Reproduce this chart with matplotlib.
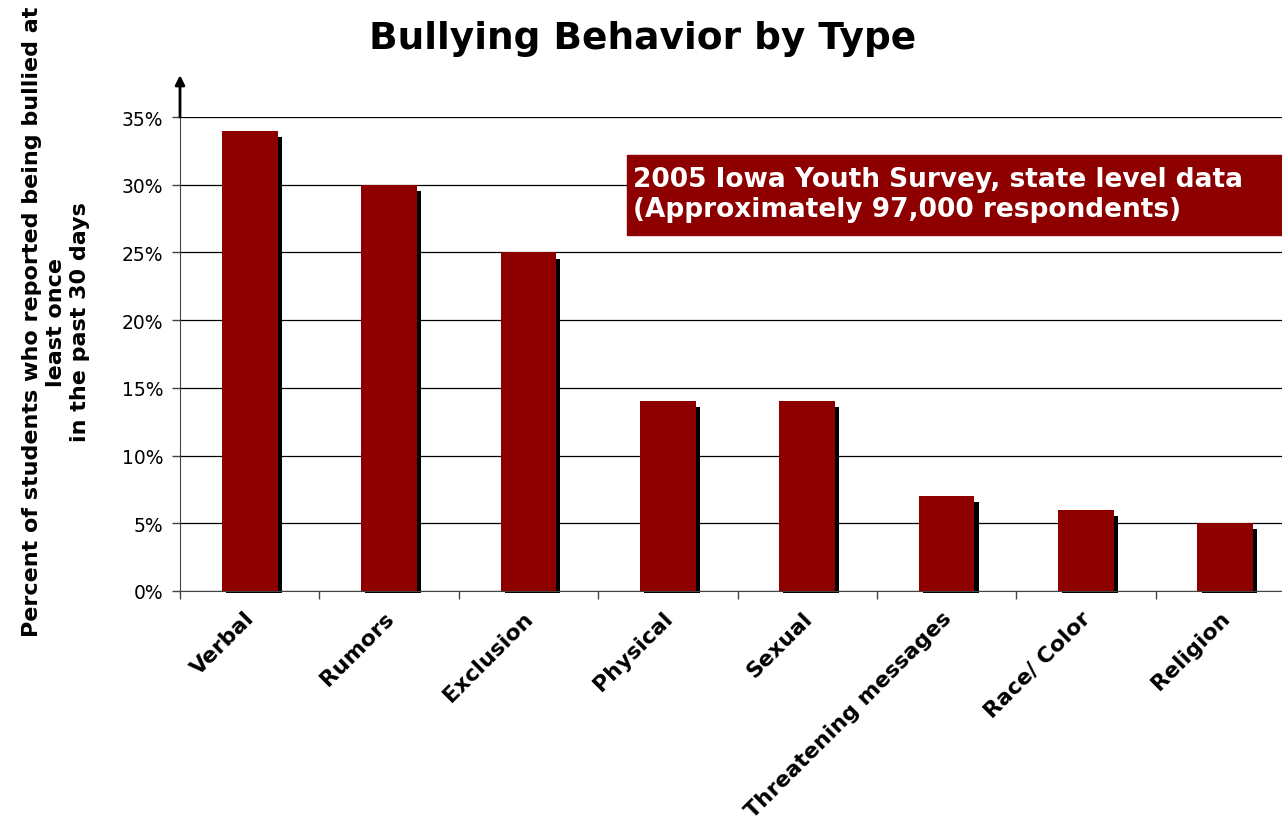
import matplotlib.pyplot as plt
import numpy as np

categories = ["Verbal", "Rumors", "Exclusion", "Physical", "Sexual",
              "Threatening messages", "Race/ Color", "Religion"]
percent = [34, 30, 25, 14, 14, 7, 6, 5]
yticks = [0, 5, 10, 15, 20, 25, 30, 35]

bar_red = "#8E0000"

fig = plt.figure(figsize=(12.82, 8.2), dpi=100)
# plot area runs past the right edge, like the original slide
ax = fig.add_axes([180 / 1282, 228 / 820, 1115 / 1282, 474 / 820])

x = np.arange(len(categories)) + 0.5
vals = np.array(percent, dtype=float)

# drop shadow, then the bars themselves
ax.bar(x + 0.03, vals - 0.3, width=0.4, bottom=-0.15, color="black", zorder=2, clip_on=False)
ax.bar(x, vals, width=0.4, color=bar_red, zorder=3)

ax.set_xlim(0, 8)
ax.set_ylim(0, 35)
ax.set_yticks(yticks)
ax.set_yticklabels([f"{t}%" for t in yticks], fontsize=13.5)
ax.yaxis.grid(True, color="black", linewidth=0.9, zorder=1)
ax.set_axisbelow(True)

ax.set_xticks(np.arange(0, 9))
ax.set_xticklabels([])
ax.tick_params(axis="both", direction="out", length=6, color="#444444", width=1)
ax.tick_params(axis="y", pad=6)

for xi, name in zip(x, categories):
    ax.text(xi - 0.04, -1.2, name, rotation=45, ha="right", va="top",
            rotation_mode="anchor", fontsize=15.8, fontweight="bold")

for side in ["top", "right"]:
    ax.spines[side].set_visible(False)
ax.spines["left"].set_color("#444444")
ax.spines["bottom"].set_color("#444444")

# arrow at the top of the value axis
ax.annotate("", xy=(0, 38.3), xytext=(0, 34.8),
            arrowprops=dict(arrowstyle="-|>", color="black", lw=2, mutation_scale=14),
            annotation_clip=False)

fig.text(0.5015, 0.953, "Bullying Behavior by Type", ha="center", va="center",
         fontsize=27, fontweight="bold")

fig.text(56 / 1282, 0.607,
         "Percent of students who reported being bullied at\nleast once\nin the past 30 days",
         rotation=90, ha="center", va="center", fontsize=16, fontweight="bold",
         linespacing=1.22)

# survey source box
box = plt.Rectangle((627 / 1282, 1 - 236 / 820), 0.6, 80 / 820,
                    transform=fig.transFigure, color=bar_red, zorder=5)
fig.patches.append(box)
fig.text(633 / 1282, 1 - 195 / 820,
         "2005 Iowa Youth Survey, state level data\n(Approximately 97,000 respondents)",
         ha="left", va="center", color="white", fontsize=19, fontweight="bold",
         linespacing=1.2, zorder=6)

fig.savefig("out.png", dpi=100)
